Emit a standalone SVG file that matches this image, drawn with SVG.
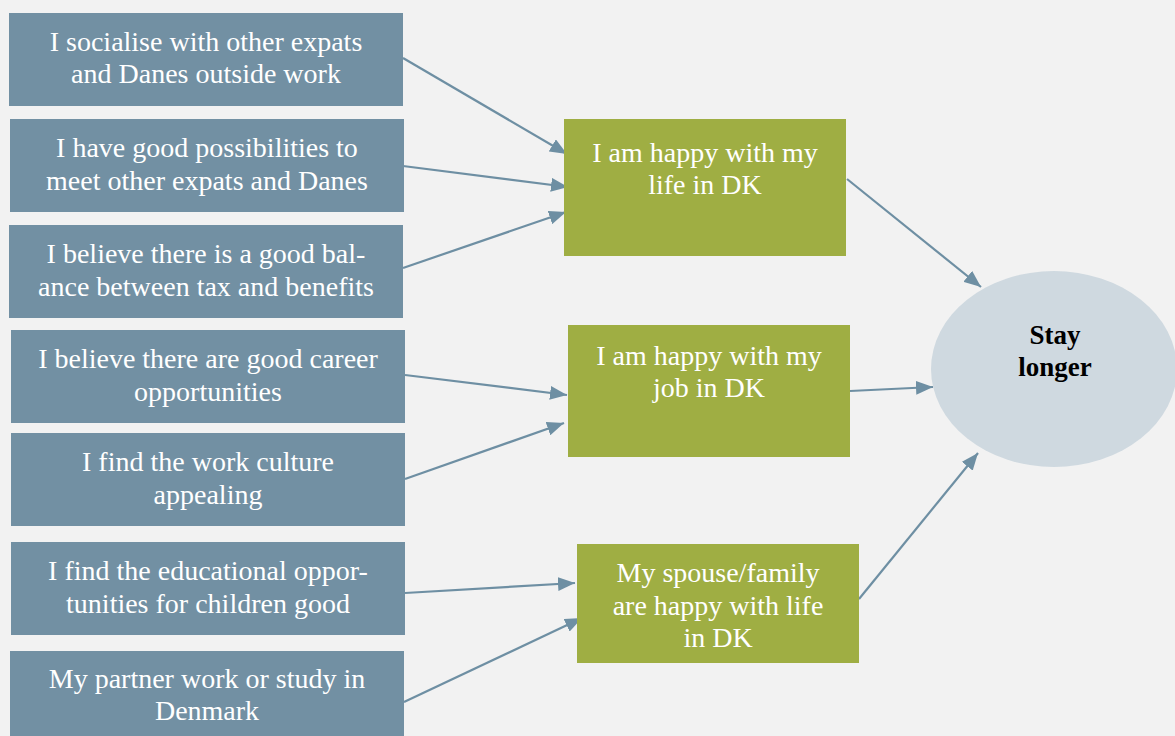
<svg xmlns="http://www.w3.org/2000/svg" width="1175" height="736" viewBox="0 0 1175 736">
<defs>
<style>
.bg{fill:#f2f2f2}
.src{fill:#7290a3}
.mid{fill:#9fae43}
.out{fill:#cfd9e0}
text{font-family:'Liberation Serif','DejaVu Serif','Times New Roman',serif}
.t{font-size:28px;fill:#ffffff;text-anchor:middle}
.tb{font-size:27px;font-weight:bold;fill:#000000;text-anchor:middle}
.c{stroke:#6e8fa3;stroke-width:2.2;fill:none;marker-end:url(#ah)}
</style>
<marker id="ah" markerUnits="userSpaceOnUse" markerWidth="18" markerHeight="14" refX="17" refY="7" orient="auto">
<path d="M0,0 L17,7 L0,14 Z" fill="#6e8fa3"/>
</marker>
</defs>
<rect class="bg" x="0" y="0" width="1175" height="736"/>
<g id="connectors">
<line class="c" x1="403" y1="58" x2="567" y2="154"/>
<line class="c" x1="403" y1="166" x2="568" y2="187"/>
<line class="c" x1="403" y1="268" x2="566" y2="212"/>
<line class="c" x1="405" y1="375" x2="567" y2="395"/>
<line class="c" x1="405" y1="479" x2="564" y2="423"/>
<line class="c" x1="405" y1="593" x2="575" y2="583"/>
<line class="c" x1="404" y1="702" x2="582" y2="618"/>
<line class="c" x1="847" y1="179" x2="981" y2="287"/>
<line class="c" x1="850" y1="391" x2="933" y2="387"/>
<line class="c" x1="859" y1="599" x2="978" y2="453"/>
</g>
<g id="n1"><rect class="src" x="9" y="13" width="394" height="93"/><text class="t" x="206" y="51">I socialise with other expats</text><text class="t" x="206" y="83">and Danes outside work</text></g>
<g id="n2"><rect class="src" x="10" y="119" width="394" height="93"/><text class="t" x="207" y="157">I have good possibilities to</text><text class="t" x="207" y="190">meet other expats and Danes</text></g>
<g id="n3"><rect class="src" x="9" y="225" width="394" height="93"/><text class="t" x="206" y="263">I believe there is a good bal-</text><text class="t" x="206" y="296">ance between tax and benefits</text></g>
<g id="n4"><rect class="src" x="11" y="330" width="394" height="93"/><text class="t" x="208" y="368">I believe there are good career</text><text class="t" x="208" y="401">opportunities</text></g>
<g id="n5"><rect class="src" x="11" y="433" width="394" height="93"/><text class="t" x="208" y="471">I find the work culture</text><text class="t" x="208" y="504">appealing</text></g>
<g id="n6"><rect class="src" x="11" y="542" width="394" height="93"/><text class="t" x="208" y="580">I find the educational oppor-</text><text class="t" x="208" y="613">tunities for children good</text></g>
<g id="n7"><rect class="src" x="10" y="651" width="394" height="93"/><text class="t" x="207" y="688">My partner work or study in</text><text class="t" x="207" y="720">Denmark</text></g>
<g id="m1"><rect class="mid" x="564" y="119" width="282" height="137"/><text class="t" x="705" y="162">I am happy with my</text><text class="t" x="705" y="194">life in DK</text></g>
<g id="m2"><rect class="mid" x="568" y="325" width="282" height="132"/><text class="t" x="709" y="365">I am happy with my</text><text class="t" x="709" y="397">job in DK</text></g>
<g id="m3"><rect class="mid" x="577" y="544" width="282" height="119"/><text class="t" x="718" y="582">My spouse/family</text><text class="t" x="718" y="615">are happy with life</text><text class="t" x="718" y="647">in DK</text></g>
<g id="stay"><ellipse class="out" cx="1054" cy="369" rx="123" ry="98"/><text class="tb" x="1055" y="344">Stay</text><text class="tb" x="1055" y="376">longer</text></g>
</svg>
